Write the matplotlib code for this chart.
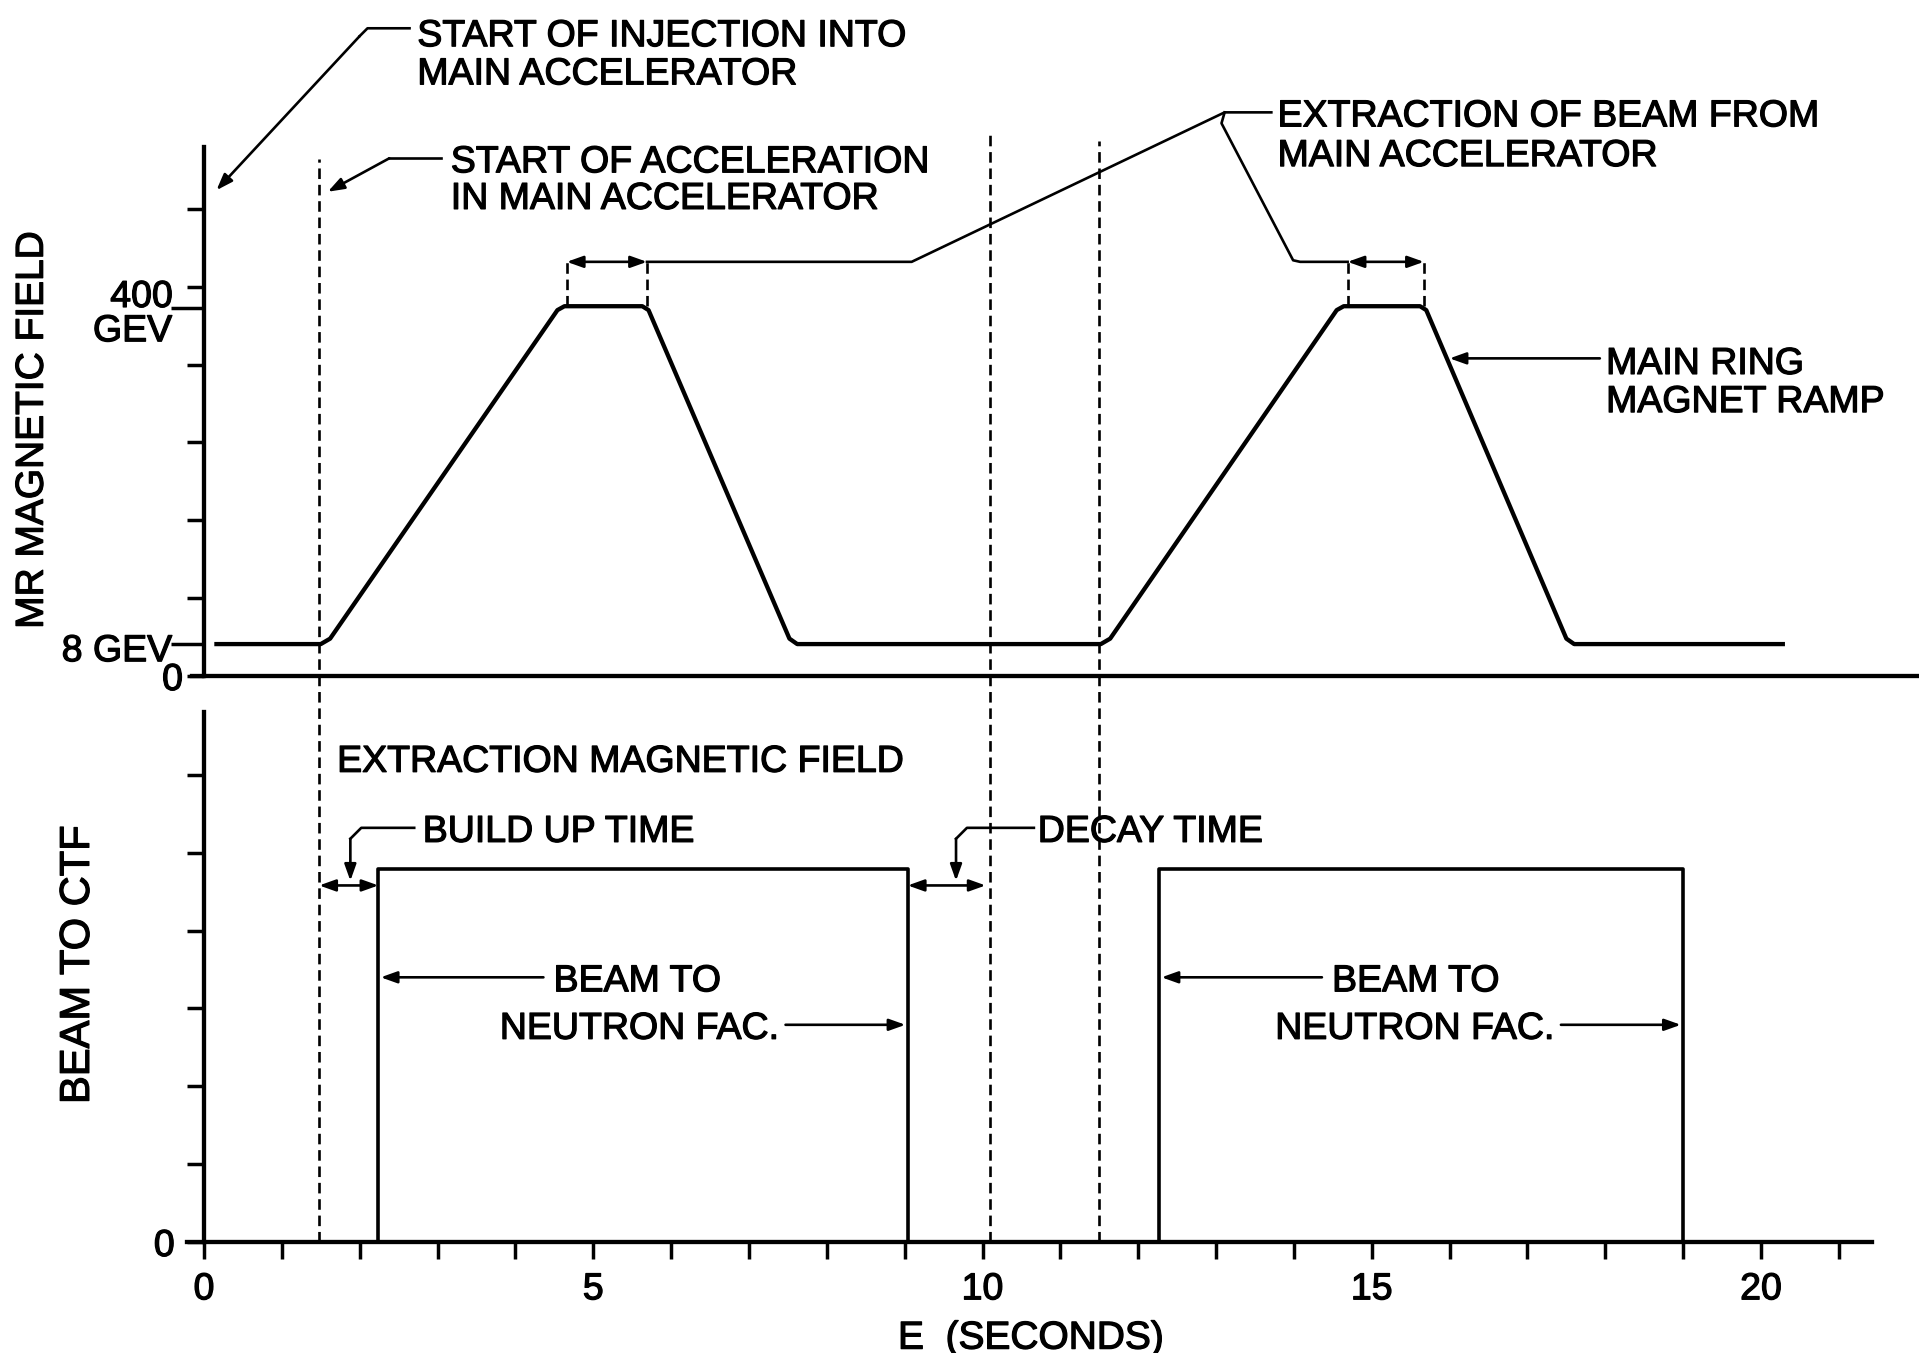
import matplotlib.pyplot as plt
import matplotlib.patheffects as pe
from matplotlib.ticker import FixedLocator, FixedFormatter

plt.rcParams['font.family'] = ['Liberation Sans', 'DejaVu Sans']

# ---- data (time in seconds, field / beam in chart divisions) ----
mr_time = [0.16, 1.50, 1.62, 4.54, 4.63, 5.63, 5.71, 7.52, 7.62,
           11.52, 11.64, 14.55, 14.64, 15.62, 15.70, 17.50, 17.60, 20.28]
mr_field = [0.41, 0.41, 0.48, 4.70, 4.75, 4.75, 4.70, 0.48, 0.41,
            0.41, 0.48, 4.70, 4.75, 4.75, 4.70, 0.48, 0.41, 0.41]
level_8gev = 0.41
level_400gev = 4.73

beam_start = [2.24, 12.27]
beam_end = [9.04, 19.00]
beam_level = 4.79

marker_times = [1.48, 10.10, 11.50]      # long dashed markers
marker_tops = [6.64, 6.95, 6.87]         # top of each marker (upper panel units)
extract_start = [4.66, 14.69]
extract_end = [5.69, 15.67]
decay_end = 10.04

x_major = list(range(0, 22))
x_labels = [str(v) if v % 5 == 0 else '' for v in x_major]

# ---- layout (pixels of the 1919x1353 sheet) ----
W, H = 1919, 1353
PX = 77.85            # pixels per second / per division
X0 = 204              # time zero
Y_UP0, Y_LO0 = 676, 1242
SPLIT = 699.4
UP_OFF = (Y_LO0 - Y_UP0) / PX   # upper zero expressed in lower units
FS = 27
LW = 3.1
LEAD = 1.9
DASH = (0, (4, 2.2))
INK = [pe.withStroke(linewidth=0.9, foreground='k')]

fig = plt.figure(figsize=(W / 100, H / 100), dpi=100)
xlim = (-X0 / PX, (W - X0) / PX)
ax_lo = fig.add_axes([0, 0, 1, (H - SPLIT) / H])
ax_lo.set_xlim(xlim)
ax_lo.set_ylim(-(H - Y_LO0) / PX, (Y_LO0 - SPLIT) / PX)
ax_up = fig.add_axes([0, (H - SPLIT) / H, 1, SPLIT / H])
ax_up.set_xlim(xlim)
ax_up.set_ylim(-(SPLIT - Y_UP0) / PX, Y_UP0 / PX)

for ax in (ax_up, ax_lo):
	ax.set_facecolor('none')
	ax.spines['top'].set_visible(False)
	ax.spines['right'].set_visible(False)
	ax.spines['left'].set_position(('data', 0))
	ax.spines['bottom'].set_position(('data', 0))
	ax.spines['left'].set_linewidth(LW)
	ax.spines['bottom'].set_linewidth(LW)
	ax.tick_params(which='both', direction='out', width=2.5, color='k',
				   labelsize=FS, pad=8.6)

ax_up.spines['left'].set_bounds(0, 6.80)
ax_up.spines['bottom'].set_bounds(-0.15, xlim[1])
ax_lo.spines['left'].set_bounds(0, 6.81)
ax_lo.spines['bottom'].set_bounds(-0.22, 21.43)

# upper ticks
ax_up.set_xticks([])
ax_up.yaxis.set_major_locator(FixedLocator(range(0, 7)))
ax_up.yaxis.set_major_formatter(FixedFormatter([''] * 7))
ax_up.yaxis.set_minor_locator(FixedLocator([level_8gev, level_400gev]))
ax_up.tick_params(axis='y', which='major', length=12.5)
ax_up.tick_params(axis='y', which='minor', length=24)

# lower ticks
ax_lo.xaxis.set_major_locator(FixedLocator(x_major))
ax_lo.xaxis.set_major_formatter(FixedFormatter(x_labels))
ax_lo.yaxis.set_major_locator(FixedLocator(range(0, 7)))
ax_lo.yaxis.set_major_formatter(FixedFormatter(['0'] + [''] * 6))
ax_lo.tick_params(axis='both', which='major', length=12.5)
for t in ax_lo.get_xticklabels() + ax_lo.get_yticklabels():
	t.set_path_effects(INK)

# ---- main ring ramp ----
ax_up.plot(mr_time, mr_field, color='k', lw=LW, solid_joinstyle='round', clip_on=False)

# ---- beam to neutron facility ----
for t0, t1 in zip(beam_start, beam_end):
	ax_lo.plot([t0, t0, t1, t1], [0, beam_level, beam_level, 0], color='k', lw=2.6)

# ---- dashed markers spanning both panels ----
for t, top in zip(marker_times, marker_tops):
	ax_lo.plot([t, t], [0, UP_OFF + top], color='k', lw=LEAD, ls=DASH, clip_on=False)
for t0, t1 in zip(extract_start, extract_end):
	for t in (t0, t1):
		ax_up.plot([t, t], [4.75, 5.32], color='k', lw=LEAD, ls=DASH, clip_on=False)


def arrow(ax, start, tip, style='-|>'):
	ax.annotate('', xy=tip, xytext=start, annotation_clip=False,
				arrowprops=dict(arrowstyle=style + ',head_length=0.7,head_width=0.25',
								lw=LEAD, color='k', shrinkA=0, shrinkB=0, mutation_scale=14))


def leader(ax, pts, tip):
	xs = [p[0] for p in pts]
	ys = [p[1] for p in pts]
	ax.plot(xs, ys, color='k', lw=LEAD, clip_on=False, solid_joinstyle='round')
	arrow(ax, pts[-1], tip)


def label(ax, x, y, s, ha='left', size=FS, **kw):
	ax.text(x, y, s, ha=ha, va='center_baseline', fontsize=size, color='k',
			path_effects=INK, **kw)


# ---- upper annotations ----
label(ax_up, 2.74, 8.27, 'START OF INJECTION INTO')
label(ax_up, 2.74, 7.78, 'MAIN ACCELERATOR')
leader(ax_up, [(2.64, 8.32), (2.10, 8.32), (2.00, 8.22)], (0.16, 6.24))

label(ax_up, 3.17, 6.65, 'START OF ACCELERATION')
label(ax_up, 3.17, 6.18, 'IN MAIN ACCELERATOR')
leader(ax_up, [(3.05, 6.65), (2.38, 6.65)], (1.59, 6.22))

label(ax_up, 13.79, 7.24, 'EXTRACTION OF BEAM FROM')
label(ax_up, 13.79, 6.73, 'MAIN ACCELERATOR')
ax_up.plot([13.71, 13.11, 9.09, extract_end[0]], [7.24, 7.24, 5.32, 5.32],
		   color='k', lw=LEAD, clip_on=False, solid_joinstyle='round')
ax_up.plot([13.11, 13.07, 13.99, 14.08, extract_start[1]], [7.24, 7.10, 5.34, 5.32, 5.32],
		   color='k', lw=LEAD, clip_on=False, solid_joinstyle='round')
for t0, t1 in zip(extract_start, extract_end):
	arrow(ax_up, (t0, 5.32), (t1, 5.32), style='<|-|>')

label(ax_up, 18.01, 4.06, 'MAIN RING')
label(ax_up, 18.01, 3.57, 'MAGNET RAMP')
arrow(ax_up, (17.93, 4.08), (16.00, 4.08))

# upper axis labels
label(ax_up, -0.40, 4.92, '400', ha='right')
label(ax_up, -0.41, 4.48, 'GEV', ha='right')
label(ax_up, -0.41, 0.37, '8 GEV', ha='right')
label(ax_up, -0.27, 0.0, '0', ha='right')
ax_up.text(-2.20, 3.16, 'MR MAGNETIC FIELD', rotation=90, ha='center', va='center',
		   fontsize=28, path_effects=INK)

# ---- lower annotations ----
label(ax_lo, 1.71, 6.22, 'EXTRACTION MAGNETIC FIELD')

label(ax_lo, 2.81, 5.32, 'BUILD UP TIME')
leader(ax_lo, [(2.70, 5.32), (2.02, 5.32), (1.88, 5.18)], (1.88, 4.64))
arrow(ax_lo, (marker_times[0], 4.58), (beam_start[0], 4.58), style='<|-|>')

label(ax_lo, 10.71, 5.32, 'DECAY TIME')
leader(ax_lo, [(10.66, 5.32), (9.80, 5.32), (9.66, 5.18)], (9.66, 4.64))
arrow(ax_lo, (beam_end[0], 4.58), (decay_end, 4.58), style='<|-|>')

for k, dx in enumerate([0.0, 10.0]):
	label(ax_lo, 4.49 + dx, 3.40, 'BEAM TO')
	label(ax_lo, 3.80 + dx - 0.04 * k, 2.79, 'NEUTRON FAC.')
	arrow(ax_lo, (4.36 + dx, 3.40), (beam_start[k] + 0.03, 3.40))
	arrow(ax_lo, (7.47 + dx - 0.04 * k, 2.79), (beam_end[k] - 0.03, 2.79))

ax_lo.text(-1.62, 3.56, 'BEAM TO CTF', rotation=90, ha='center', va='center', fontsize=30,
		   path_effects=INK)
label(ax_lo, 10.62, -1.19, 'E  (SECONDS)', ha='center', size=28)

fig.savefig('out.png', dpi=100)
